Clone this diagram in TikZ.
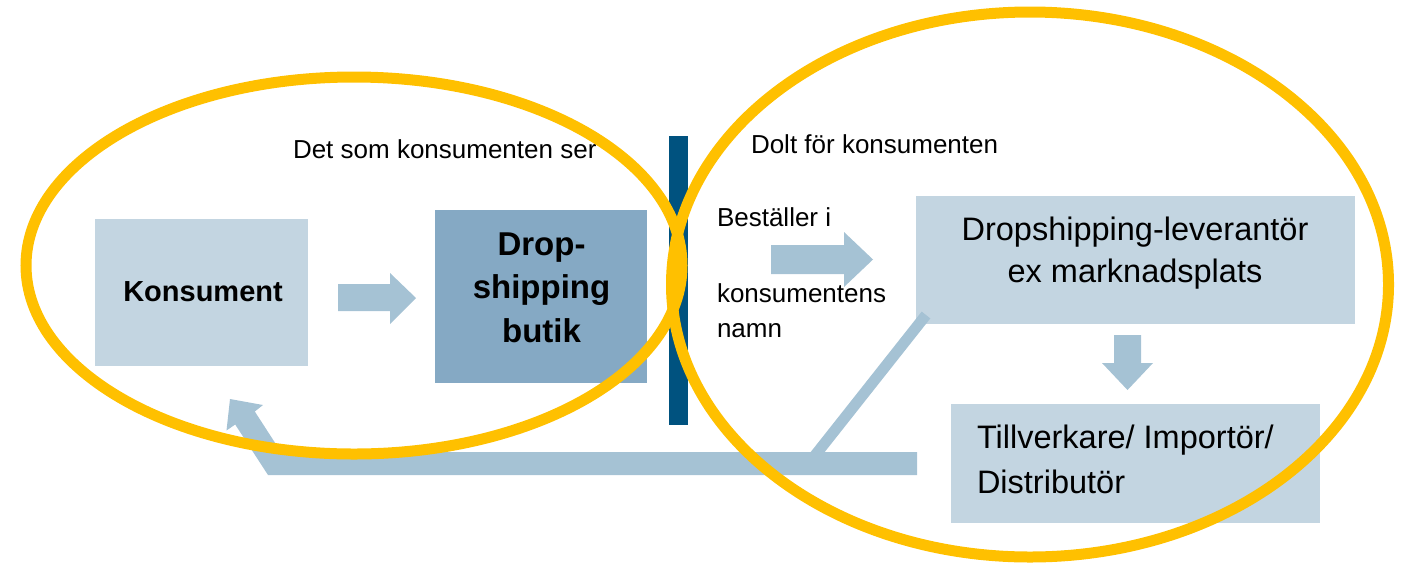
\documentclass[tikz,border=0pt]{standalone}
\usepackage{fontspec}
\setmainfont{Liberation Sans}
\definecolor{lightbox}{HTML}{C3D5E1}
\definecolor{midbox}{HTML}{85A9C4}
\definecolor{arrowc}{HTML}{A5C2D4}
\definecolor{navybar}{HTML}{00527F}
\definecolor{ringc}{HTML}{FFC000}
\begin{document}
\begin{tikzpicture}[x=1pt,y=-1pt,
  boxnode/.style={inner sep=0pt, outer sep=0pt, draw=none},
  txt/.style={inner sep=0pt, outer sep=0pt, text=black},
  plain/.style={txt, font=\fontsize{26}{31}\selectfont},
  big/.style={txt, font=\fontsize{32.5}{42}\selectfont},
  ring/.style={draw=ringc, line width=11pt}]
\useasboundingbox (0,0) rectangle (1412,566);

% boxes
\node[boxnode, fill=lightbox, minimum width=213pt, minimum height=147pt] (kons) at (201.5,292.5) {};
\node[boxnode, fill=midbox, minimum width=212pt, minimum height=173pt] (butik) at (541,296.5) {};
\node[boxnode, fill=lightbox, minimum width=439pt, minimum height=128pt] (lev) at (1135.5,260) {};
\node[boxnode, fill=lightbox, minimum width=369pt, minimum height=119pt] (till) at (1135.5,463.5) {};

% texts (multi-line nodes: base = last line baseline)
\node[txt, anchor=base, font=\fontsize{29}{34}\selectfont\bfseries] (konsT) at (203,301) {Konsument};
\node[txt, anchor=base, align=center, font=\fontsize{33}{43.5}\selectfont\bfseries] (butikT) at (541.5,342) {Drop-\\shipping\\butik};
\node[big, anchor=base, align=center] (levT) at (1135,282) {Dropshipping-leverantör\\ex marknadsplats};
\node[big, anchor=base west, align=left, font=\fontsize{32.5}{45}\selectfont] (tillT) at (977,493) {Tillverkare/ Importör/\\Distributör};
\node[plain, anchor=base west] (ser) at (293,158) {Det som konsumenten ser};
\node[plain, anchor=base west] (dolt) at (751,153) {Dolt för konsumenten};
\node[plain, anchor=base west] (best1) at (717,226) {Beställer i};
\node[plain, anchor=base west] (best2) at (717,302) {konsumentens};
\node[plain, anchor=base west] (best3) at (717,337) {namn};

% divider bar
\fill[navybar] (669,136) rectangle (688,425);

% block arrows
\fill[arrowc] (338,284) -- (390,284) -- (390,273) -- (416,298) -- (390,324) -- (390,311) -- (338,311) -- cycle;
\fill[arrowc] (771,245) -- (844,245) -- (844,232) -- (873,259.5) -- (844,287) -- (844,274) -- (771,274) -- cycle;
\fill[arrowc] (1114,335) -- (1141,335) -- (1141,363) -- (1153,363) -- (1127.5,390) -- (1102,363) -- (1114,363) -- cycle;

% feedback arrow
\coordinate (fbstart) at (809,463);
\coordinate (fbtop) at (926,315);
\draw[arrowc, line width=11pt] (fbstart) -- (fbtop);
\fill[arrowc] (917,452) -- (281,452) -- (254.8,411.5) -- (263,405) -- (230,399) -- (226.5,430.5) -- (235.2,424.5) -- (268,475) -- (917,475) -- cycle;

% rings
\draw[ring] (354,265.5) ellipse [x radius=328, y radius=188.5];
\draw[ring] (1030,284.5) ellipse [x radius=358.5, y radius=272.5];
\end{tikzpicture}
\end{document}
